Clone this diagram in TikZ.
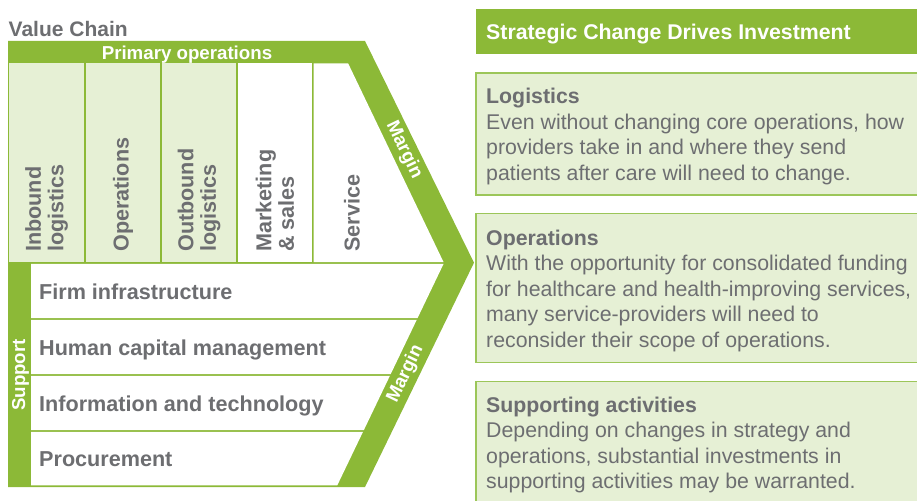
\documentclass[tikz,border=0pt]{standalone}
\usepackage{fontspec}
\setmainfont{Liberation Sans}
\definecolor{vgreen}{HTML}{8CB937}
\definecolor{vlight}{HTML}{E6F0D5}
\definecolor{vgray}{HTML}{6D6E71}
\definecolor{vline}{HTML}{9CC659}
\tikzset{
  lbl/.style={text=vgray, font=\bfseries\fontsize{21.6}{22.5}\selectfont, inner sep=0},
  collbl/.style={lbl, rotate=90, anchor=west, align=left},
  rowlbl/.style={lbl, anchor=base west},
  wlbl/.style={text=white, font=\bfseries\fontsize{18.7}{20}\selectfont, inner sep=0},
  cellg/.style={fill=vlight},
  cellw/.style={fill=white},
  infobox/.style={fill=vlight, draw=vline, line width=1.3pt},
  infotext/.style={text=vgray, font=\fontsize{21.3}{25.5}\selectfont, align=left, anchor=north west, inner sep=0},
}
\begin{document}
\begin{tikzpicture}[x=1pt,y=-1pt]
\useasboundingbox (0,0) rectangle (917,500);
% ---------- value chain chevron ----------
\fill[vgreen] (8,41) -- (365,41) -- (474,262.7) -- (365,487) -- (8,487) -- cycle;
% primary columns
\fill[cellg] (9,63.3) rectangle (84.3,262.2);
\fill[cellg] (85.7,63.3) rectangle (160.3,262.2);
\fill[cellg] (161.7,63.3) rectangle (236.3,262.2);
\fill[cellw] (237.7,63.3) rectangle (312.3,262.2);
\fill[cellw] (313.7,63.3) -- (348.1,63.3) -- (443.6,262.2) -- (313.7,262.2) -- cycle;
% support rows
\fill[cellw] (31,263.8) -- (443.6,263.8) -- (417.5,318.2) -- (31,318.2) -- cycle;
\fill[cellw] (31,319.8) -- (416.75,319.8) -- (390.65,374.2) -- (31,374.2) -- cycle;
\fill[cellw] (31,375.8) -- (389.9,375.8) -- (363.8,430.2) -- (31,430.2) -- cycle;
\fill[cellw] (31,431.8) -- (363,431.8) -- (337.3,485.3) -- (31,485.3) -- cycle;

\node[anchor=base west, text=vgray, font=\bfseries\fontsize{21}{24}\selectfont, inner sep=0] (vc) at (8.5,36.5) {Value Chain};
\node[wlbl, anchor=base] (prim) at (187,59.5) {Primary operations};

\node[collbl] (c1) at (46.5,252) {Inbound\\logistics};
\node[collbl] (c2) at (123,252) {Operations};
\node[collbl] (c3) at (199,252) {Outbound\\logistics};
\node[collbl] (c4) at (275,252) {Marketing\\\& sales};
\node[collbl] (c5) at (352,252) {Service};

\node[rowlbl] (r1) at (39,299.5) {Firm infrastructure};
\node[rowlbl] (r2) at (39,355) {Human capital management};
\node[rowlbl] (r3) at (39,411) {Information and technology};
\node[rowlbl] (r4) at (39,466) {Procurement};

\node[wlbl, rotate=90] (sup) at (20.5,375) {Support};
\node[wlbl, rotate=-64.3] (m1) at (404,150) {Margin};
\node[wlbl, rotate=64.3] (m2) at (405.5,374) {Margin};

% ---------- right panel ----------
\fill[vgreen] (476,9) rectangle (930,54);
\node[anchor=base west, text=white, font=\bfseries\fontsize{21.3}{24}\selectfont, inner sep=0] (hdr) at (486,40) {Strategic Change Drives Investment};

\draw[infobox] (476,73) rectangle (930,195);
\draw[infobox] (476,213.5) rectangle (930,362.3);
\draw[infobox] (476,381.7) rectangle (930,520);

\node[infotext] (t1) at (486,88) {\textbf{Logistics}\\Even without changing core operations, how\\providers take in and where they send\\patients after care will need to change.};
\node[infotext] (t2) at (486,229.8) {\textbf{Operations}\\With the opportunity for consolidated funding\\for healthcare and health-improving services,\\many service-providers will need to\\reconsider their scope of operations.};
\node[infotext] (t3) at (486,396.6) {\textbf{Supporting activities}\\Depending on changes in strategy and\\operations, substantial investments in\\supporting activities may be warranted.};
\end{tikzpicture}
\end{document}
